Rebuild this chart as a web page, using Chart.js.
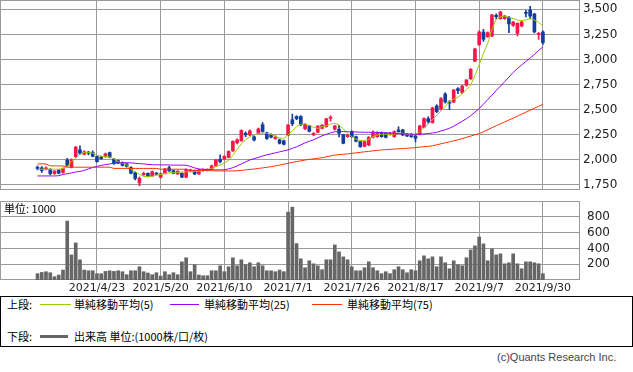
<!DOCTYPE html>
<html>
<head>
<meta charset="utf-8">
<script src="https://cdn.jsdelivr.net/npm/chart.js@4.4.1/dist/chart.umd.min.js"></script>
<style>
body { margin: 0; background: #fff; width: 633px; height: 372px; position: relative; overflow: hidden; font-family: "Noto Sans CJK JP", sans-serif; color: #000; }
canvas { position: absolute; left: 0; }
#c1 { top: 0; }
#c2 { top: 200px; }
#legend { position: absolute; left: 0; top: 296px; width: 631px; height: 49px; border: 1px solid #000; }
.t { position: absolute; font-size: 11px; line-height: 14px; white-space: nowrap; }
.ln { position: absolute; height: 1px; }
#credit { position: absolute; left: 497px; top: 351px; font: 11px "Liberation Sans", sans-serif; color: #444; }
</style>
</head>
<body>
<canvas id="c1" width="633" height="192"></canvas>
<canvas id="c2" width="633" height="96"></canvas>
<div id="legend"></div>
<div class="t" style="left:7px;top:297px">上段:</div>
<div class="ln" style="left:40px;top:304px;width:31px;background:#99cc00"></div>
<div class="t" style="left:74px;top:297px">単純移動平均(5)</div>
<div class="ln" style="left:170px;top:304px;width:29px;background:#9900ff"></div>
<div class="t" style="left:204px;top:297px">単純移動平均(25)</div>
<div class="ln" style="left:312px;top:304px;width:30px;background:#ff3300"></div>
<div class="t" style="left:347px;top:297px">単純移動平均(75)</div>
<div class="t" style="left:7px;top:329px">下段:</div>
<div class="ln" style="left:40px;top:335px;width:28px;height:3px;background:#666"></div>
<div class="t" style="left:74px;top:329px">出来高 単位:(1000株/口/枚)</div>
<div id="credit">(c)Quants Research Inc.</div>
<script>
const dateLabels = ["2021/4/23", "2021/5/20", "2021/6/10", "2021/7/1", "2021/7/26", "2021/8/17", "2021/9/7", "2021/9/30"];
const dateIndex = [14, 29, 44, 59, 74, 89, 104, 119];
const priceTicks = [1750, 2000, 2250, 2500, 2750, 3000, 3250, 3500];
const volumeTicks = [200, 400, 600, 800];

const open = [
    1927, 1920, 1910, 1907, 1864, 1897, 1874, 1998, 1927, 2032,
    2100, 2056, 2078, 2073, 2033, 2026, 2033, 2073, 2007, 1993,
    1972, 1960, 1925, 1874, 1770, 1852, 1866, 1840, 1866, 1827,
    1867, 1922, 1893, 1860, 1866, 1827, 1887, 1893, 1860, 1893,
    1897, 1907, 1940, 2005, 2008, 2025, 2090, 2170, 2190, 2265,
    2248, 2230, 2266, 2350, 2270, 2250, 2212, 2200, 2190, 2245,
    2400, 2432, 2432, 2310, 2340, 2250, 2275, 2314, 2330, 2415,
    2305, 2305, 2250, 2231, 2281, 2231, 2182, 2135, 2148, 2225,
    2231, 2271, 2265, 2252, 2231, 2298, 2298, 2258, 2255, 2238,
    2258, 2324, 2411, 2371, 2537, 2504, 2656, 2577, 2577, 2710,
    2670, 2743, 2809, 2980, 3148, 3274, 3227, 3234, 3440, 3407,
    3407, 3420, 3340, 3261, 3334, 3466, 3493, 3453, 3250, 3274
];
const close = [
    1914, 1894, 1918, 1862, 1887, 1867, 1914, 1944, 2000, 2127,
    2066, 2080, 2066, 2035, 1983, 2013, 2060, 2026, 1962, 1970,
    1945, 1935, 1867, 1815, 1817, 1866, 1840, 1882, 1858, 1862,
    1910, 1890, 1867, 1887, 1828, 1905, 1900, 1860, 1900, 1900,
    1903, 1941, 1999, 1982, 2036, 2085, 2185, 2200, 2293, 2250,
    2288, 2198, 2308, 2283, 2213, 2226, 2228, 2165, 2155, 2348,
    2360, 2410, 2352, 2356, 2285, 2265, 2336, 2346, 2410, 2425,
    2338, 2265, 2165, 2248, 2231, 2185, 2132, 2182, 2225, 2271,
    2271, 2231, 2225, 2265, 2281, 2281, 2248, 2238, 2230, 2215,
    2338, 2411, 2380, 2517, 2480, 2610, 2577, 2565, 2696, 2690,
    2736, 2796, 2902, 3105, 3274, 3201, 3267, 3443, 3427, 3473,
    3433, 3354, 3373, 3360, 3373, 3460, 3433, 3274, 3254, 3168
];
const high = [
    1940, 1934, 1930, 1912, 1895, 1905, 1920, 2015, 2010, 2135,
    2140, 2092, 2085, 2090, 2040, 2035, 2068, 2078, 2015, 1998,
    1980, 1965, 1932, 1880, 1830, 1878, 1872, 1890, 1875, 1868,
    1915, 1935, 1900, 1895, 1872, 1912, 1908, 1900, 1905, 1910,
    1910, 1948, 2005, 2050, 2042, 2090, 2190, 2210, 2300, 2280,
    2300, 2240, 2318, 2372, 2278, 2260, 2240, 2208, 2198, 2352,
    2455, 2440, 2440, 2362, 2345, 2272, 2342, 2352, 2415, 2440,
    2345, 2345, 2255, 2255, 2290, 2238, 2188, 2188, 2232, 2290,
    2280, 2278, 2272, 2275, 2290, 2330, 2305, 2265, 2262, 2245,
    2345, 2420, 2430, 2525, 2550, 2620, 2670, 2590, 2702, 2720,
    2742, 2800, 2910, 3110, 3285, 3300, 3275, 3450, 3455, 3480,
    3440, 3430, 3380, 3365, 3380, 3490, 3530, 3460, 3270, 3285
];
const low = [
    1900, 1874, 1900, 1850, 1855, 1860, 1868, 1935, 1920, 2025,
    2055, 2050, 2050, 2030, 1978, 2005, 2025, 2020, 1955, 1962,
    1938, 1928, 1860, 1800, 1741, 1845, 1830, 1835, 1850, 1820,
    1860, 1885, 1862, 1855, 1822, 1822, 1880, 1852, 1855, 1888,
    1890, 1900, 1935, 1970, 2000, 2020, 2085, 2160, 2185, 2230,
    2240, 2190, 2260, 2275, 2205, 2220, 2205, 2158, 2148, 2240,
    2340, 2400, 2340, 2300, 2278, 2240, 2270, 2308, 2325, 2385,
    2298, 2228, 2160, 2225, 2225, 2180, 2125, 2130, 2140, 2220,
    2225, 2225, 2218, 2245, 2225, 2275, 2240, 2230, 2225, 2180,
    2250, 2318, 2365, 2365, 2470, 2498, 2565, 2500, 2570, 2660,
    2660, 2735, 2800, 2990, 3140, 3180, 3220, 3228, 3405, 3400,
    3400, 3268, 3330, 3235, 3325, 3425, 3405, 3265, 3200, 3150
];
const ma5 = [
    1907, 1907, 1907, 1907, 1907, 1907, 1915, 1935, 1985, 2017,
    2055, 2075, 2075, 2066, 2045, 2038, 2035, 2030, 2010, 1983,
    1967, 1950, 1905, 1883, 1855, 1835, 1833, 1836, 1848, 1855,
    1862, 1872, 1875, 1877, 1879, 1881, 1883, 1886, 1889, 1893,
    1900, 1913, 1935, 1950, 1970, 1995, 2045, 2105, 2160, 2200,
    2231, 2250, 2262, 2265, 2265, 2255, 2235, 2218, 2215, 2248,
    2290, 2331, 2355, 2358, 2341, 2325, 2314, 2331, 2338, 2358,
    2364, 2348, 2310, 2265, 2231, 2205, 2192, 2192, 2205, 2231,
    2248, 2255, 2255, 2255, 2258, 2265, 2265, 2255, 2248, 2255,
    2281, 2318, 2355, 2400, 2445, 2485, 2535, 2580, 2605, 2625,
    2660, 2700, 2745, 2840, 2950, 3060, 3160, 3300, 3400, 3425,
    3433, 3420, 3410, 3392, 3388, 3393, 3410, 3392, 3370, 3334
];
const ma25 = [
    1840, 1840, 1840, 1840, 1840, 1842, 1855, 1862, 1870, 1880,
    1885, 1895, 1910, 1925, 1935, 1945, 1952, 1960, 1966, 1969,
    1971, 1972, 1970, 1966, 1963, 1960, 1955, 1952, 1951, 1950,
    1950, 1949, 1948, 1948, 1948, 1946, 1935, 1920, 1910, 1906,
    1904, 1902, 1900, 1900, 1902, 1910, 1922, 1940, 1960, 1980,
    2000, 2012, 2025, 2038, 2050, 2060, 2070, 2080, 2090, 2100,
    2115, 2130, 2150, 2170, 2185, 2200, 2220, 2240, 2255, 2270,
    2280, 2282, 2282, 2280, 2280, 2278, 2276, 2275, 2275, 2275,
    2274, 2272, 2270, 2268, 2265, 2262, 2260, 2258, 2256, 2255,
    2256, 2258, 2262, 2268, 2275, 2288, 2300, 2315, 2335, 2360,
    2385, 2410, 2440, 2475, 2510, 2555, 2600, 2645, 2690, 2735,
    2780, 2825, 2870, 2910, 2945, 2980, 3015, 3050, 3090, 3125
];
const ma75 = [
    1960, 1960, 1960, 1940, 1940, 1940, 1940, 1927, 1927, 1927,
    1927, 1927, 1927, 1927, 1927, 1927, 1927, 1927, 1915, 1915,
    1915, 1915, 1915, 1915, 1915, 1915, 1915, 1915, 1915, 1907,
    1907, 1907, 1907, 1907, 1907, 1907, 1895, 1895, 1895, 1895,
    1895, 1892, 1890, 1890, 1890, 1890, 1890, 1892, 1895, 1900,
    1905, 1909, 1915, 1920, 1926, 1932, 1940, 1948, 1957, 1966,
    1975, 1983, 1990, 1999, 2005, 2010, 2016, 2022, 2030, 2040,
    2048, 2052, 2056, 2060, 2065, 2070, 2075, 2080, 2085, 2090,
    2095, 2099, 2102, 2105, 2108, 2110, 2113, 2116, 2119, 2122,
    2127, 2131, 2135, 2140, 2150, 2160, 2170, 2180, 2190, 2200,
    2212, 2225, 2237, 2250, 2262, 2280, 2300, 2320, 2340, 2358,
    2378, 2397, 2416, 2436, 2455, 2475, 2495, 2515, 2534, 2553
];
const volume = [
    80, 96, 105, 92, 42, 63, 126, 746, 318, 469,
    256, 126, 117, 117, 80, 80, 109, 117, 109, 117,
    105, 67, 117, 117, 168, 105, 88, 67, 92, 50,
    105, 67, 92, 67, 230, 281, 105, 193, 63, 54,
    54, 117, 117, 180, 105, 168, 281, 180, 256, 193,
    218, 168, 218, 180, 117, 117, 105, 126, 105, 859,
    922, 461, 268, 155, 243, 205, 180, 130, 256, 256,
    444, 356, 293, 256, 168, 117, 117, 155, 230, 155,
    117, 80, 105, 80, 130, 168, 130, 92, 130, 117,
    243, 306, 268, 293, 168, 293, 218, 142, 243, 193,
    180, 281, 381, 432, 545, 457, 243, 394, 318, 331,
    205, 218, 331, 205, 142, 230, 230, 218, 205, 80
];

const UP = "#f5164c";
const DOWN = "#123d9c";
const GRID = "#9a9a9a";
const candleColor = open.map((o, i) => (close[i] >= o ? UP : DOWN));
const xMin = -8.83;
const xMax = 127.5;

// frame around the plot area, drawn under the marks
const boxPlugin = {
    id: "box",
    beforeDatasetsDraw(chart) {
        const a = chart.chartArea;
        const c = chart.ctx;
        c.save();
        c.strokeStyle = GRID;
        c.lineWidth = 1;
        c.strokeRect(a.left + 0.5, a.top + 0.5, a.right - a.left, a.bottom - a.top - 1);
        c.restore();
    },
};

const unitPlugin = {
    id: "unit",
    afterDraw(chart) {
        const c = chart.ctx;
        c.save();
        c.fillStyle = "#fff";
        c.fillRect(1, 2, 58, 14);
        c.fillStyle = "#000";
        c.font = '11px "Noto Sans CJK JP"';
        c.textBaseline = "middle";
        c.fillText("単位: 1000", 4, 9);
        c.restore();
    },
};

function xScale(showLabels) {
    return {
        type: "linear",
        min: xMin,
        max: xMax,
        offset: false,
        afterBuildTicks: (s) => { s.ticks = dateIndex.map((v) => ({ value: v })); },
        afterFit: (s) => {
            s.height = showLabels ? 16 : 2;
            s.paddingLeft = 0;
            s.paddingRight = 0;
        },
        ticks: {
            display: showLabels,
            autoSkip: false,
            maxRotation: 0,
            padding: 2,
            color: "#222",
            font: { family: "DejaVu Sans", size: 11 },
            callback: (v, i) => dateLabels[i],
        },
        grid: { color: GRID, drawTicks: false, offset: false },
        border: { display: false },
    };
}

function yScale(min, max, ticks, pad, fmt) {
    return {
        position: "right",
        min: min,
        max: max,
        afterBuildTicks: (s) => { s.ticks = ticks.map((v) => ({ value: v })); },
        afterFit: (s) => {
            s.width = 54;
            s.paddingTop = 0;
            s.paddingBottom = 0;
        },
        ticks: {
            padding: pad,
            color: "#222",
            font: { family: "DejaVu Sans", size: 12 },
            callback: fmt,
        },
        grid: { color: GRID, drawTicks: false },
        border: { display: false },
    };
}

const line = (arr) => arr.map((v, i) => ({ x: i, y: v }));

new Chart(document.getElementById("c1"), {
    type: "bar",
    data: {
        datasets: [
            { type: "line", data: line(ma75), borderColor: "#ff3300", borderWidth: 1, pointRadius: 0, order: 0 },
            { type: "line", data: line(ma25), borderColor: "#9900ff", borderWidth: 1, pointRadius: 0, order: 0 },
            { type: "line", data: line(ma5), borderColor: "#99cc00", borderWidth: 1, pointRadius: 0, order: 0 },
            {
                data: open.map((o, i) => ({ x: i, y: [Math.min(o, close[i]), Math.max(o, close[i])] })),
                backgroundColor: candleColor,
                barThickness: 3,
                minBarLength: 1,
                grouped: false,
                order: 1,
            },
            {
                data: low.map((l, i) => ({ x: i, y: [l, high[i]] })),
                backgroundColor: candleColor,
                barThickness: 1,
                grouped: false,
                order: 2,
            },
        ],
    },
    options: {
        responsive: false,
        animation: false,
        layout: { padding: 0 },
        plugins: { legend: { display: false }, tooltip: { enabled: false } },
        scales: {
            x: xScale(false),
            y: yScale(1700, 3592.6, priceTicks, 4, (v) => v.toLocaleString("en-US")),
        },
    },
    plugins: [boxPlugin],
});

new Chart(document.getElementById("c2"), {
    type: "bar",
    data: {
        datasets: [
            {
                data: volume.map((v, i) => ({ x: i, y: v })),
                backgroundColor: "#666666",
                barThickness: 3,
                grouped: false,
            },
        ],
    },
    options: {
        responsive: false,
        animation: false,
        layout: { padding: { top: 1 } },
        plugins: { legend: { display: false }, tooltip: { enabled: false } },
        scales: {
            x: xScale(true),
            y: yScale(0, 1000, volumeTicks, 8, (v) => v),
        },
    },
    plugins: [boxPlugin, unitPlugin],
});
</script>
</body>
</html>
